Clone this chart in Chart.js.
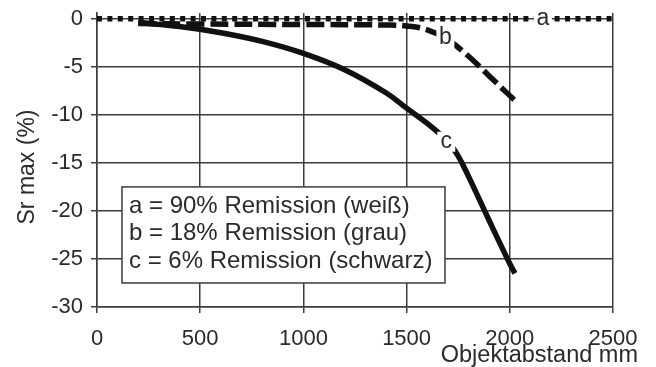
<!DOCTYPE html>
<html>
<head>
<meta charset="utf-8">
<script src="https://cdn.jsdelivr.net/npm/chart.js@4/dist/chart.umd.min.js"></script>
<style>
  html, body { margin: 0; padding: 0; background: #fff; }
  #wrap { width: 656px; height: 367px; position: relative; }
</style>
</head>
<body>
<div id="wrap"><canvas id="srChart"></canvas></div>
<script>
// =======================================================
// DATEN
// =======================================================
const xTicks = [0, 500, 1000, 1500, 2000, 2500];
const yTicks = [0, -5, -10, -15, -20, -25, -30];

// a = 90% Remission (weiß)
const aDist = [0, 2500];
const aSr = [0, 0];

// b = 18% Remission (grau)
const bDist = [200, 500, 1000, 1400, 1500, 1600, 1700, 1800, 1900, 2000, 2025];
const bSr = [-0.5, -0.55, -0.6, -0.65, -0.75, -1.15, -2.2, -3.9, -5.95, -8.0, -8.5];

// c = 6% Remission (schwarz)
const cDist = [200, 400, 600, 800, 1000, 1200, 1400, 1500, 1600, 1700, 1750, 1800, 1900, 2000, 2025];
const cSr = [-0.4, -0.8, -1.45, -2.35, -3.6, -5.3, -7.7, -9.3, -10.9, -12.8, -14.3, -16.4, -21.0, -25.5, -26.5];

const curveNames = ['a', 'b', 'c'];
const legendLines = [
    'a = 90% Remission (weiß)',
    'b = 18% Remission (grau)',
    'c = 6% Remission (schwarz)'
];
const yTitle = 'Sr max (%)';
const xTitle = 'Objektabstand mm';

// =======================================================
// HILFSFUNKTIONEN
// =======================================================
const FONT = '"Liberation Sans", Arial, Helvetica, sans-serif';
const TEXT = '#2a2a2a';
const GRID = '#3c3c3c';

function toPoints(xs, ys) {
    return xs.map((x, i) => ({ x: x, y: ys[i] }));
}

// Kurvenbeschriftungen (a, b, c) mit weißem Hintergrund + Legendenkasten + Achsentitel
const annotations = {
    id: 'annotations',
    afterDatasetsDraw(chart) {
        const { ctx, scales: { x, y } } = chart;
        ctx.save();

        // Kurvenbeschriftungen
        const spots = [[2160, 0.05], [1688, -2.0], [1692, -12.8]];
        ctx.font = '23px ' + FONT;
        ctx.textAlign = 'center';
        ctx.textBaseline = 'middle';
        curveNames.forEach((name, i) => {
            const px = x.getPixelForValue(spots[i][0]);
            const py = y.getPixelForValue(spots[i][1]);
            ctx.fillStyle = '#fff';
            ctx.fillRect(px - 9, py - 10, 18, 20);
            ctx.fillStyle = TEXT;
            ctx.fillText(name, px, py);
        });

        // Legendenkasten
        const left = x.getPixelForValue(121);
        const right = x.getPixelForValue(1686);
        const top = y.getPixelForValue(-17.5);
        const bottom = y.getPixelForValue(-27.5);
        ctx.fillStyle = '#fff';
        ctx.fillRect(left, top, right - left, bottom - top);
        ctx.strokeStyle = GRID;
        ctx.lineWidth = 1.5;
        ctx.strokeRect(left, top, right - left, bottom - top);
        ctx.fillStyle = TEXT;
        ctx.textAlign = 'left';
        ctx.font = '24px ' + FONT;
        legendLines.forEach((line, i) => {
            ctx.fillText(line, left + 7, top + 19 + i * 27.8);
        });

        // Achsentitel
        ctx.font = '23.5px ' + FONT;
        ctx.textAlign = 'right';
        ctx.textBaseline = 'alphabetic';
        ctx.fillText(xTitle, 638, 362);

        ctx.translate(28, 167);
        ctx.rotate(-Math.PI / 2);
        ctx.font = '23px ' + FONT;
        ctx.textAlign = 'center';
        ctx.textBaseline = 'middle';
        ctx.fillText(yTitle, 0, 0);
        ctx.restore();
    }
};

// =======================================================
// DIAGRAMM
// =======================================================
function renderChart() {
    const ctx = document.getElementById('srChart');

    new Chart(ctx, {
        type: 'line',
        data: {
            datasets: [
                {
                    label: curveNames[0],
                    data: toPoints(aDist, aSr),
                    borderColor: '#111',
                    borderWidth: 5.5,
                    borderDash: [5, 5.4],
                    borderCapStyle: 'butt',
                    pointRadius: 0,
                    tension: 0
                },
                {
                    label: curveNames[1],
                    data: toPoints(bDist, bSr),
                    borderColor: '#111',
                    borderWidth: 5.5,
                    borderDash: [18, 6],
                    borderCapStyle: 'butt',
                    pointRadius: 0,
                    tension: 0.4
                },
                {
                    label: curveNames[2],
                    data: toPoints(cDist, cSr),
                    borderColor: '#111',
                    borderWidth: 5.5,
                    borderCapStyle: 'butt',
                    pointRadius: 0,
                    tension: 0.4
                }
            ]
        },
        options: {
            responsive: true,
            maintainAspectRatio: false,
            animation: false,
            layout: { padding: { top: 13, right: 43, bottom: 0, left: 0 } },
            plugins: {
                legend: { display: false },
                tooltip: { enabled: false }
            },
            scales: {
                x: {
                    type: 'linear',
                    min: 0,
                    max: 2500,
                    afterFit: (scale) => {
                        scale.height = 60;
                        scale.paddingLeft = 0;
                        scale.paddingRight = 0;
                    },
                    afterBuildTicks: (scale) => { scale.ticks = xTicks.map(v => ({ value: v })); },
                    grid: { color: GRID, lineWidth: 1.5, tickLength: 6, tickColor: GRID },
                    border: { color: GRID, width: 1.5 },
                    ticks: {
                        color: TEXT,
                        font: { family: FONT, size: 22 },
                        padding: 13,
                        maxRotation: 0,
                        callback: (value) => String(value)
                    }
                },
                y: {
                    type: 'linear',
                    min: -30,
                    max: 0.6,
                    afterFit: (scale) => {
                        scale.width = 97;
                        scale.paddingTop = 0;
                        scale.paddingBottom = 0;
                    },
                    afterBuildTicks: (scale) => { scale.ticks = yTicks.map(v => ({ value: v })); },
                    grid: { color: GRID, lineWidth: 1.5, tickLength: 6, tickColor: GRID },
                    border: { color: GRID, width: 1.5 },
                    ticks: {
                        color: TEXT,
                        font: { family: FONT, size: 22 },
                        padding: 8,
                        callback: (value) => String(value)
                    }
                }
            }
        },
        plugins: [annotations]
    });
}

renderChart();
</script>
</body>
</html>
